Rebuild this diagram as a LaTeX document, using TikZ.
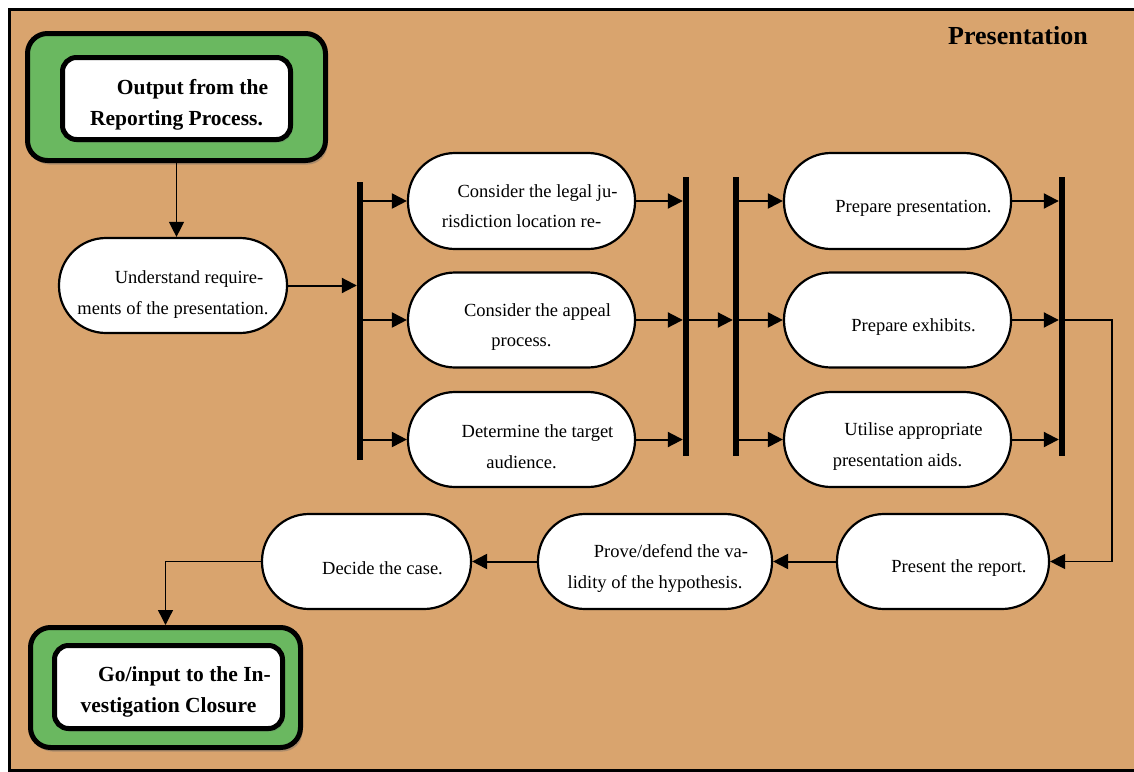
\documentclass[tikz,border=0pt]{standalone}
\usepackage{fontspec}
\setmainfont{Liberation Serif}
\usetikzlibrary{arrows.meta,shadows}
\definecolor{tanbg}{RGB}{217,164,110}
\definecolor{gbox}{RGB}{106,184,96}
\tikzset{
  stad/.style={draw=black, line width=2.2pt, fill=white, rounded corners=47pt, inner sep=0pt},
  txt/.style={font=\fontsize{18.5}{30.5}\selectfont, align=center, yshift=-7pt, inner sep=0pt},
  btxt/.style={font=\bfseries\fontsize{21.5}{31}\selectfont, align=center, inner sep=0pt},
  outerbox/.style={draw=black, line width=5pt, fill=gbox, rounded corners=20pt, inner sep=0pt,
    drop shadow={shadow xshift=2pt, shadow yshift=-4pt, opacity=0.4, fill=black!60}},
  innerbox/.style={draw=black, line width=5pt, fill=white, rounded corners=14pt, inner sep=0pt,
    drop shadow={shadow xshift=2pt, shadow yshift=-3pt, opacity=0.3, fill=black!60}},
  barn/.style={fill=black, minimum width=6pt, inner sep=0pt, minimum height=279pt},
  arr/.style={line width=2pt, -{Triangle[length=15pt,width=15pt]}},
  thinarr/.style={line width=1.3pt, -{Triangle[length=15pt,width=15pt]}},
}
\begin{document}
\begin{tikzpicture}[x=1pt,y=-1pt]
\useasboundingbox (0,0) rectangle (1134,771);
\fill[white] (0,0) rectangle (1134,771);
\fill[tanbg] (9.5,9.5) rectangle (1134,770);
\draw[black, line width=3pt] (1134,9.5) -- (9.5,9.5) -- (9.5,770) -- (1134,770);

\node[font=\bfseries\fontsize{26}{30}\selectfont] (title) at (1018,36) {Presentation};

% Output box
\node[outerbox, minimum width=298pt, minimum height=127pt] (ob) at (176.5,97) {};
\node[innerbox, minimum width=228pt, minimum height=82pt,
  label={[btxt, yshift=-6pt]center:{\hspace*{32pt}Output from the\\Reporting Process.}}] (ib) at (176.5,98.5) {};

% Understand
\node[stad, minimum width=228pt, minimum height=95pt,
  label={[txt, yshift=-2pt]center:{\hspace*{32pt}Understand require-\\ments of the presentation.}}] (u) at (173,285.5) {};

% bars
\node[barn, minimum height=278pt] (b1) at (360,321) {};
\node[barn] (b2) at (686,316.5) {};
\node[barn] (b3) at (736,316.5) {};
\node[barn] (b4) at (1062,316.5) {};

% column 2
\node[stad, minimum width=227pt, minimum height=96pt,
  label={[txt, yshift=2pt]center:{\hspace*{32pt}Consider the legal ju-\\risdiction location re-}}] (c1) at (521.5,201) {};
\node[stad, minimum width=227pt, minimum height=95pt,
  label={[txt]center:{\hspace*{32pt}Consider the appeal\\process.}}] (c2) at (521.5,320) {};
\node[stad, minimum width=227pt, minimum height=95pt,
  label={[txt]center:{\hspace*{32pt}Determine the target\\audience.}}] (c3) at (521.5,439.5) {};

% column 3
\node[stad, minimum width=227pt, minimum height=96pt,
  label={[txt]center:{\hspace*{32pt}Prepare presentation.}}] (d1) at (897.5,201) {};
\node[stad, minimum width=227pt, minimum height=95pt,
  label={[txt]center:{\hspace*{32pt}Prepare exhibits.}}] (d2) at (897.5,320) {};
\node[stad, minimum width=227pt, minimum height=95pt,
  label={[txt]center:{\hspace*{32pt}Utilise appropriate\\presentation aids.}}] (d3) at (897.5,439.5) {};

% bottom row
\node[stad, minimum width=212pt, minimum height=95pt,
  label={[txt]center:{\hspace*{32pt}Present the report.}}] (p) at (943,561.5) {};
\node[stad, minimum width=234pt, minimum height=95pt,
  label={[txt]center:{\hspace*{32pt}Prove/defend the va-\\lidity of the hypothesis.}}] (v) at (655,561.5) {};
\node[stad, minimum width=209pt, minimum height=95pt,
  label={[txt]center:{\hspace*{32pt}Decide the case.}}] (dc) at (366.5,561.5) {};

% Go box
\node[outerbox, minimum width=270pt, minimum height=120pt] (go) at (165.5,687.5) {};
\node[innerbox, minimum width=228pt, minimum height=83pt,
  label={[btxt, yshift=-5pt]center:{\hspace*{32pt}Go/input to the In-\\vestigation Closure}}] (gi) at (168.5,687) {};

% connectors
\draw[thinarr] (ob.south) -- (ob.south |- u.north);
\draw[arr] (u.east) -- (u.east -| b1.west);
\foreach \n in {c1,c2,c3}{
  \draw[arr] (b1.east |- \n.west) -- (\n.west);
  \draw[arr] (\n.east) -- (\n.east -| b2.west);
}
\draw[arr] (b2.east |- c2) -- (b3.west |- c2);
\foreach \n in {d1,d2,d3}{
  \draw[arr] (b3.east |- \n.west) -- (\n.west);
  \draw[arr] (\n.east) -- (\n.east -| b4.west);
}
\coordinate (k) at (1112,561.5);
\draw[thinarr] (b4.center |- d2) -| (k) -- (p.east);
\draw[arr] (p.west) -- (v.east);
\draw[arr] (v.west) -- (dc.east);
\draw[thinarr] (dc.west) -| (go.north);
\end{tikzpicture}
\end{document}
